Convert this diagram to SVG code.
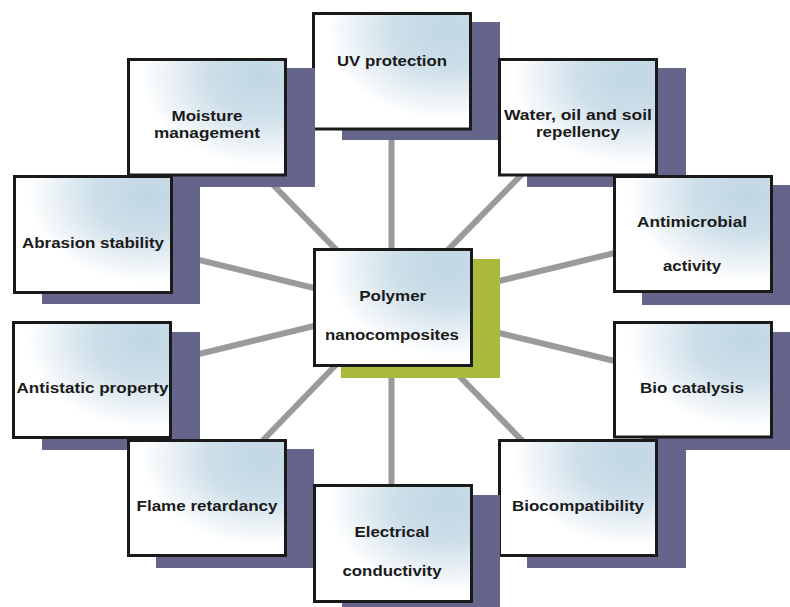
<svg xmlns="http://www.w3.org/2000/svg" width="790" height="607" viewBox="0 0 790 607">
<defs>
<radialGradient id="gBox" cx="0.85" cy="0.15" r="0.85">
<stop offset="0" stop-color="#c0d6e4"/>
<stop offset="0.4" stop-color="#cddfe9"/>
<stop offset="0.75" stop-color="#f0f5f8"/>
<stop offset="0.9" stop-color="#ffffff"/>
</radialGradient>
<style>
.sh{fill:#65648b}
.shg{fill:#a9b93b}
.bx{fill:url(#gBox);stroke:#1a1a1a;stroke-width:3}
.tx{font-family:"Liberation Sans",Arial,sans-serif;font-weight:bold;font-size:14px;fill:#1a1a1a;text-anchor:middle}
.ln{stroke:#9a9a9c;stroke-width:6;fill:none}
</style>
</defs>
<rect width="790" height="607" fill="#ffffff"/>
<g id="connectors" class="ln">
<line x1="391.5" y1="307" x2="391.5" y2="71"/>
<line x1="392" y1="307" x2="207" y2="117"/>
<line x1="392" y1="307" x2="578" y2="117"/>
<line x1="392" y1="307" x2="93" y2="234"/>
<line x1="392" y1="307" x2="693" y2="234"/>
<line x1="392" y1="307" x2="92" y2="380"/>
<line x1="392" y1="307" x2="693" y2="380"/>
<line x1="392" y1="307" x2="207" y2="498"/>
<line x1="392" y1="307" x2="578" y2="498"/>
<line x1="391.5" y1="307" x2="391.5" y2="543"/>
</g>
<g id="n-uv" transform="translate(312,12)">
<rect class="sh" x="30" y="10" width="158" height="118"/>
<rect class="bx" x="1.5" y="1.5" width="157" height="115.5"/>
<text class="tx" x="80" y="54" textLength="110" lengthAdjust="spacingAndGlyphs">UV protection</text>
</g>
<g id="n-moisture" transform="translate(127,58)">
<rect class="sh" x="29" y="10" width="159" height="119"/>
<rect class="bx" x="1.5" y="1.5" width="157" height="115.5"/>
<text class="tx" x="80" y="62.7" textLength="71" lengthAdjust="spacingAndGlyphs">Moisture</text>
<text class="tx" x="80" y="80" textLength="106" lengthAdjust="spacingAndGlyphs">management</text>
</g>
<g id="n-water" transform="translate(498,58)">
<rect class="sh" x="29" y="10" width="159" height="119"/>
<rect class="bx" x="1.5" y="1.5" width="157" height="115.5"/>
<text class="tx" x="80" y="62" textLength="148" lengthAdjust="spacingAndGlyphs">Water, oil and soil</text>
<text class="tx" x="80" y="78.7" textLength="84" lengthAdjust="spacingAndGlyphs">repellency</text>
</g>
<g id="n-abrasion" transform="translate(13,175)">
<rect class="sh" x="29" y="12" width="158" height="117"/>
<rect class="bx" x="1.5" y="1.5" width="157" height="116"/>
<text class="tx" x="80" y="72.7" textLength="142" lengthAdjust="spacingAndGlyphs">Abrasion stability</text>
</g>
<g id="n-antimicrobial" transform="translate(613,175)">
<rect class="sh" x="29" y="10" width="159" height="120"/>
<rect class="bx" x="1.5" y="1.5" width="157" height="115"/>
<text class="tx" x="79" y="51.7" textLength="110" lengthAdjust="spacingAndGlyphs">Antimicrobial</text>
<text class="tx" x="79" y="95.7" textLength="58" lengthAdjust="spacingAndGlyphs">activity</text>
</g>
<g id="n-center" transform="translate(313,248)">
<rect class="shg" x="28" y="11" width="159" height="119"/>
<rect class="bx" x="1.5" y="1.5" width="157" height="116"/>
<text class="tx" x="79.7" y="52.7" textLength="67" lengthAdjust="spacingAndGlyphs">Polymer</text>
<text class="tx" x="79" y="92" textLength="134" lengthAdjust="spacingAndGlyphs">nanocomposites</text>
</g>
<g id="n-antistatic" transform="translate(12,321)">
<rect class="sh" x="30" y="11" width="158" height="118"/>
<rect class="bx" x="1.5" y="1.5" width="157" height="115"/>
<text class="tx" x="80.5" y="72.3" textLength="152" lengthAdjust="spacingAndGlyphs">Antistatic property</text>
</g>
<g id="n-biocatalysis" transform="translate(613,321)">
<rect class="sh" x="29" y="11" width="159" height="118"/>
<rect class="bx" x="1.5" y="1.5" width="157" height="114.5"/>
<text class="tx" x="79" y="72.3" textLength="104" lengthAdjust="spacingAndGlyphs">Bio catalysis</text>
</g>
<g id="n-flame" transform="translate(127,439)">
<rect class="sh" x="29" y="10" width="158" height="119"/>
<rect class="bx" x="1.5" y="1.5" width="157" height="115"/>
<text class="tx" x="80" y="71.7" textLength="141" lengthAdjust="spacingAndGlyphs">Flame retardancy</text>
</g>
<g id="n-biocompat" transform="translate(498,439)">
<rect class="sh" x="29" y="11" width="159" height="118"/>
<rect class="bx" x="1.5" y="1.5" width="157" height="115"/>
<text class="tx" x="80" y="71.7" textLength="132" lengthAdjust="spacingAndGlyphs">Biocompatibility</text>
</g>
<g id="n-electrical" transform="translate(313,484)">
<rect class="sh" x="29" y="11" width="158" height="119"/>
<rect class="bx" x="1.5" y="1.5" width="157" height="116"/>
<text class="tx" x="79" y="52.7" textLength="75" lengthAdjust="spacingAndGlyphs">Electrical</text>
<text class="tx" x="79" y="92" textLength="99" lengthAdjust="spacingAndGlyphs">conductivity</text>
</g>
</svg>
